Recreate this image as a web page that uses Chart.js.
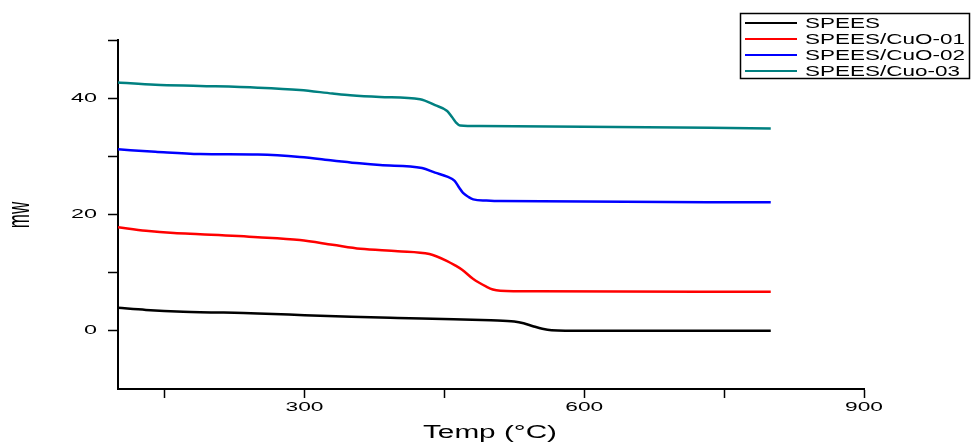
<!DOCTYPE html>
<html>
<head>
<meta charset="utf-8">
<script src="https://cdn.jsdelivr.net/npm/chart.js@4"></script>
<style>
  html, body { margin: 0; padding: 0; background: #fff; }
  #grafico { display: block; }
</style>
</head>
<body>
<canvas id="grafico" width="971" height="443"></canvas>
<script>
// Datos (Temp en °C, mW)
const etiquetas = ['SPEES', 'SPEES/CuO-01', 'SPEES/CuO-02', 'SPEES/Cuo-03'];
const colores = ['#000000', '#ff0000', '#0000ff', '#008080'];

const tempSpees = [100, 130, 170, 250, 300, 350, 400, 460, 500, 525, 535, 545, 555, 565, 600, 700, 800];
const mwSpees   = [3.95, 3.6, 3.3, 3.0, 2.7, 2.4, 2.2, 2.0, 1.8, 1.6, 1.3, 0.8, 0.35, 0.1, 0.0, 0.0, 0.0];

const tempCuo01 = [100, 130, 160, 188, 250, 295, 330, 360, 400, 434, 453, 461, 469, 481, 495, 502, 510, 550, 800];
const mwCuo01   = [17.8, 17.2, 16.8, 16.6, 16.1, 15.6, 14.8, 14.1, 13.7, 13.2, 12.0, 11.3, 10.5, 8.9, 7.6, 7.1, 6.9, 6.8, 6.7];

const tempCuo02 = [100, 140, 188, 250, 295, 330, 359, 381, 426, 440, 453, 461, 466, 470, 476, 481, 495, 510, 800];
const mwCuo02   = [31.2, 30.8, 30.4, 30.3, 29.9, 29.3, 28.8, 28.5, 28.0, 27.2, 26.5, 25.8, 24.6, 23.7, 23.0, 22.6, 22.4, 22.3, 22.1];

const tempCuo03 = [100, 140, 188, 250, 295, 330, 349, 381, 424, 440, 453, 458, 462, 467, 488, 600, 800];
const mwCuo03   = [42.7, 42.3, 42.1, 41.8, 41.4, 40.8, 40.5, 40.2, 39.8, 38.8, 37.8, 36.8, 35.9, 35.3, 35.2, 35.1, 34.8];

const ticksX = [150, 300, 450, 600, 750, 900];
const etiquetasX = [300, 600, 900];
const ticksY = [0, 10, 20, 30, 40, 50];
const etiquetasY = [0, 20, 40];

const tituloX = 'Temp (°C)';
const tituloY = 'mw';

const series = [
    [tempSpees, mwSpees],
    [tempCuo01, mwCuo01],
    [tempCuo02, mwCuo02],
    [tempCuo03, mwCuo03]
];

const fuente = 'Liberation Sans, Arial, sans-serif';

// La figura original tiene el texto estirado a lo ancho
function textoAncho(ctx, texto, x, y, size, estirar, align) {
    ctx.save();
    ctx.font = size + 'px ' + fuente;
    ctx.fillStyle = '#000';
    ctx.textBaseline = 'middle';
    const w = ctx.measureText(texto).width * estirar;
    let x0 = x;
    if (align === 'center') x0 = x - w / 2;
    if (align === 'right') x0 = x - w;
    ctx.translate(x0, y);
    ctx.scale(estirar, 1);
    ctx.fillText(texto, 0, 0);
    ctx.restore();
}

// Etiquetas de ejes y leyenda con marco
const textosPlugin = {
    id: 'textos',
    afterDraw(chart) {
        const ctx = chart.ctx;
        const sx = chart.scales.x;
        const sy = chart.scales.y;

        etiquetasX.forEach(v => textoAncho(ctx, String(v), sx.getPixelForValue(v), 407, 13, 1.75, 'center'));
        etiquetasY.forEach(v => textoAncho(ctx, String(v), 97, sy.getPixelForValue(v), 13, 1.8, 'right'));
        textoAncho(ctx, tituloX, 490, 433, 18, 1.65, 'center');

        // título vertical
        ctx.save();
        ctx.translate(21, 215);
        ctx.rotate(-Math.PI / 2);
        ctx.scale(1, 1.8);
        ctx.font = '17px ' + fuente;
        ctx.fillStyle = '#000';
        ctx.textAlign = 'center';
        ctx.textBaseline = 'middle';
        ctx.fillText(tituloY, 0, 0);
        ctx.restore();

        ctx.save();
        ctx.strokeStyle = '#000';
        ctx.lineWidth = 1.5;
        ctx.strokeRect(740.5, 13.5, 229, 65);
        chart.data.datasets.forEach((ds, i) => {
            const y = 23 + i * 16;
            ctx.strokeStyle = ds.borderColor;
            ctx.lineWidth = 2;
            ctx.beginPath();
            ctx.moveTo(745, y);
            ctx.lineTo(797, y);
            ctx.stroke();
            textoAncho(ctx, ds.label, 805, y + 1, 14.5, 1.55, 'left');
        });
        ctx.restore();
    }
};

const ctx = document.getElementById('grafico').getContext('2d');

new Chart(ctx, {
    type: 'scatter',
    data: {
        datasets: series.map((s, i) => ({
            label: etiquetas[i],
            data: s[0].map((t, k) => ({ x: t, y: s[1][k] })),
            showLine: true,
            borderColor: colores[i],
            backgroundColor: colores[i],
            borderWidth: 2.5,
            pointRadius: 0,
            cubicInterpolationMode: 'monotone'
        }))
    },
    options: {
        responsive: false,
        animation: false,
        layout: { padding: { top: 40, right: 107, left: 0, bottom: 0 } },
        plugins: {
            legend: { display: false },
            tooltip: { enabled: false }
        },
        scales: {
            x: {
                type: 'linear',
                min: 100,
                max: 900,
                afterFit: (s) => { s.height = 54; },
                afterBuildTicks: (s) => { s.ticks = ticksX.map(v => ({ value: v })); },
                border: { display: true, color: '#000', width: 2 },
                grid: { drawOnChartArea: false, drawTicks: true, tickLength: 9, color: '#000', tickWidth: 1.5 },
                ticks: { display: false }
            },
            y: {
                min: -10,
                max: 50,
                afterFit: (s) => { s.width = 118; },
                afterBuildTicks: (s) => { s.ticks = ticksY.map(v => ({ value: v })); },
                border: { display: true, color: '#000', width: 2 },
                grid: { drawOnChartArea: false, drawTicks: true, tickLength: 10, color: '#000', tickWidth: 1.5 },
                ticks: { display: false }
            }
        }
    },
    plugins: [textosPlugin]
});
</script>
</body>
</html>
